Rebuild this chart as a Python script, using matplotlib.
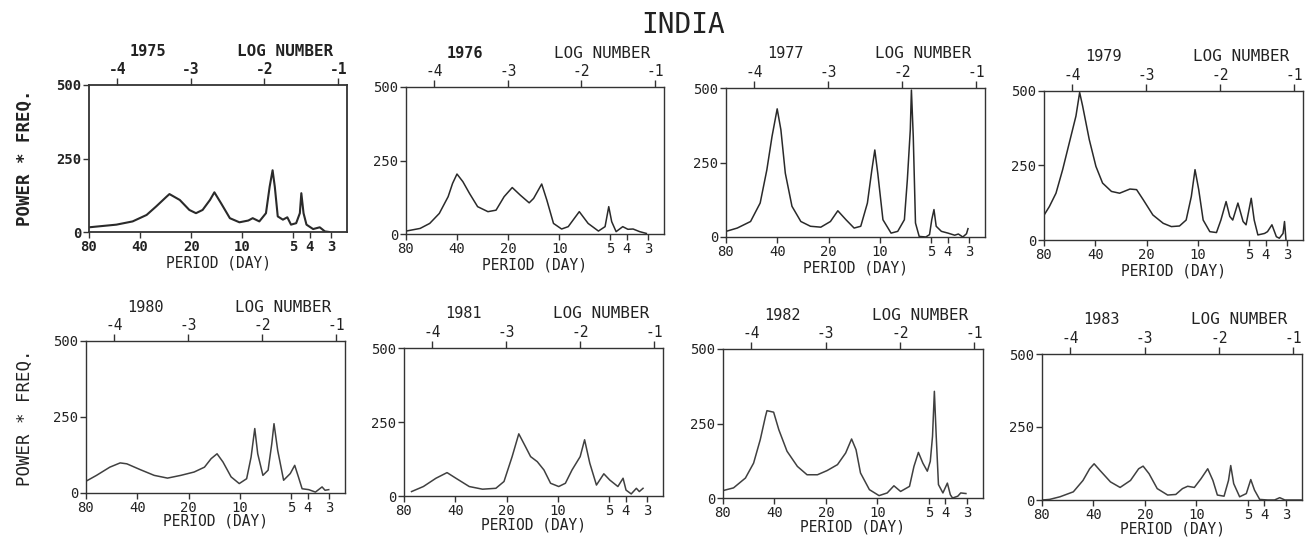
import numpy as np
import matplotlib
matplotlib.use("Agg")
import matplotlib.pyplot as plt

plt.rcParams["font.family"] = ["DejaVu Sans Mono", "DejaVu Sans"]

# x values are the "LOG NUMBER" (ln of frequency, 1/day), y is power * frequency
YEARS = ["1975", "1976", "1977", "1979", "1980", "1981", "1982", "1983"]

LOGN_1975 = [-4.38, -4.01, -3.79, -3.60, -3.47, -3.33, -3.29, -3.15, -3.02, -2.93, -2.84, -2.74,
             -2.68, -2.59, -2.47, -2.34, -2.22, -2.16, -2.07, -1.98, -1.93, -1.89, -1.86, -1.82,
             -1.75, -1.69, -1.64, -1.57, -1.52, -1.50, -1.47, -1.43, -1.34, -1.25, -1.18, -1.12]
POW_1975 = [16, 25, 36, 58, 87, 120, 129, 109, 75, 64, 75, 109, 135, 98, 47, 33, 39, 47, 36, 64,
            154, 210, 154, 53, 42, 50, 25, 30, 64, 132, 64, 25, 10, 16, 2, 0]

LOGN_1976 = [-4.38, -4.19, -4.06, -3.93, -3.81, -3.75, -3.69, -3.61, -3.52, -3.41, -3.27, -3.16,
             -3.05, -2.94, -2.83, -2.71, -2.65, -2.54, -2.47, -2.38, -2.27, -2.18, -2.03, -1.91,
             -1.77, -1.68, -1.63, -1.59, -1.53, -1.44, -1.37, -1.30, -1.21, -1.12]
POW_1976 = [10, 19, 36, 70, 127, 172, 204, 178, 138, 93, 76, 81, 127, 158, 132, 106, 121, 170,
            115, 36, 17, 25, 76, 36, 10, 25, 93, 42, 8, 25, 16, 17, 8, 2]

LOGN_1977 = [-4.38, -4.23, -4.05, -3.92, -3.83, -3.76, -3.69, -3.64, -3.58, -3.49, -3.37, -3.24,
             -3.10, -2.97, -2.87, -2.76, -2.65, -2.56, -2.47, -2.41, -2.37, -2.33, -2.26, -2.15,
             -2.06, -1.97, -1.93, -1.89, -1.875, -1.85, -1.82, -1.77, -1.68, -1.63, -1.60, -1.57,
             -1.54, -1.47, -1.38, -1.29, -1.24, -1.18, -1.13, -1.11]
POW_1977 = [19, 30, 52, 114, 225, 337, 430, 360, 214, 103, 52, 36, 33, 52, 88, 58, 30, 36, 114,
            225, 292, 214, 58, 13, 19, 58, 192, 360, 493, 337, 47, 2, 0, 8, 58, 92, 36, 19, 13, 6,
            10, 0, 11, 28]

LOGN_1979 = [-4.38, -4.31, -4.22, -4.13, -4.04, -3.95, -3.90, -3.86, -3.77, -3.68, -3.59, -3.47,
             -3.36, -3.22, -3.13, -3.04, -2.91, -2.77, -2.66, -2.55, -2.46, -2.39, -2.34, -2.29,
             -2.23, -2.14, -2.05, -1.99, -1.92, -1.87, -1.83, -1.76, -1.69, -1.65, -1.58, -1.54,
             -1.49, -1.40, -1.36, -1.30, -1.24, -1.20, -1.15, -1.13, -1.11]
POW_1979 = [84, 112, 157, 236, 326, 416, 495, 450, 337, 247, 191, 163, 157, 171, 169, 135, 84,
            56, 45, 47, 67, 146, 236, 169, 67, 28, 25, 67, 129, 79, 67, 124, 62, 51, 140, 67, 17,
            22, 28, 51, 11, 6, 22, 62, 0]

LOGN_1980 = [-4.38, -4.24, -4.06, -3.92, -3.83, -3.65, -3.46, -3.28, -3.10, -2.92, -2.78, -2.69,
             -2.61, -2.53, -2.42, -2.31, -2.21, -2.15, -2.10, -2.06, -1.99, -1.92, -1.87, -1.84,
             -1.79, -1.71, -1.62, -1.56, -1.51, -1.46, -1.37, -1.28, -1.19, -1.15, -1.10]
POW_1980 = [39, 58, 85, 99, 96, 77, 58, 49, 58, 69, 85, 113, 129, 102, 53, 31, 47, 118, 212, 129,
            58, 75, 162, 228, 140, 42, 64, 91, 53, 14, 11, 3, 20, 9, 11]

LOGN_1981 = [-4.28, -4.12, -3.95, -3.80, -3.68, -3.50, -3.32, -3.14, -3.03, -2.92, -2.83, -2.74,
             -2.67, -2.58, -2.49, -2.40, -2.29, -2.20, -2.11, -2.00, -1.94, -1.87, -1.78, -1.68,
             -1.60, -1.49, -1.42, -1.38, -1.31, -1.24, -1.20, -1.15]
POW_1981 = [15, 32, 60, 79, 60, 32, 23, 26, 49, 133, 210, 167, 133, 116, 88, 43, 32, 43, 88, 133,
            190, 111, 37, 75, 54, 32, 60, 20, 7, 26, 15, 26]

LOGN_1982 = [-4.38, -4.24, -4.08, -3.97, -3.88, -3.81, -3.79, -3.70, -3.63, -3.52, -3.38, -3.25,
             -3.11, -2.98, -2.84, -2.73, -2.65, -2.59, -2.53, -2.41, -2.28, -2.17, -2.08, -1.99,
             -1.87, -1.81, -1.75, -1.69, -1.63, -1.59, -1.56, -1.535, -1.51, -1.48, -1.42, -1.36,
             -1.32, -1.29, -1.22, -1.18, -1.11]
POW_1982 = [25, 34, 67, 117, 196, 274, 293, 288, 229, 157, 106, 78, 78, 92, 112, 151, 198, 162,
            84, 28, 8, 17, 41, 22, 39, 106, 153, 117, 90, 123, 207, 358, 207, 45, 17, 50, 11, 0,
            6, 17, 15]

LOGN_1983 = [-4.38, -4.28, -4.14, -3.96, -3.83, -3.74, -3.68, -3.60, -3.46, -3.33, -3.19, -3.08,
             -3.02, -2.94, -2.83, -2.69, -2.58, -2.49, -2.42, -2.33, -2.24, -2.15, -2.08, -2.02,
             -1.93, -1.87, -1.84, -1.80, -1.72, -1.63, -1.57, -1.52, -1.45, -1.34, -1.25, -1.18,
             -1.11, -1.02, -0.88]
POW_1983 = [0, 2, 11, 28, 67, 107, 124, 101, 62, 43, 67, 107, 116, 90, 39, 17, 19, 39, 47, 43,
            73, 107, 67, 17, 13, 67, 118, 56, 11, 22, 70, 34, 2, 0, 0, 8, 0, 0, 0]

PERIOD_TICKS = [80, 40, 20, 10, 5, 4, 3]
LOG_TICKS = [-4, -3, -2, -1]
POWER_TICKS = [0, 250, 500]

SERIES = [(LOGN_1975, POW_1975), (LOGN_1976, POW_1976), (LOGN_1977, POW_1977),
          (LOGN_1979, POW_1979), (LOGN_1980, POW_1980), (LOGN_1981, POW_1981),
          (LOGN_1982, POW_1982), (LOGN_1983, POW_1983)]

# panel boxes in pixels: left, top, right, bottom
BOXES = [(89, 85, 347, 232), (406, 87, 664, 234), (726, 88, 985, 237), (1044, 91, 1303, 240),
         (86, 341, 345, 493), (404, 348, 663, 496), (723, 349, 983, 498), (1042, 354, 1302, 500)]

W, H = 1309, 539
INK = "#333333"

fig = plt.figure(figsize=(W / 100, H / 100), dpi=100)

for i, (year, (xs, ys), box) in enumerate(zip(YEARS, SERIES, BOXES)):
    l, t, r, b = box
    ax = fig.add_axes([l / W, 1 - b / H, (r - l) / W, (b - t) / H])
    bold = "bold" if i == 0 else "normal"
    lw = 1.5 if i == 0 else 1.1
    ax.plot(xs, ys, color="#2a2a2a" if i < 4 else "#404040", lw=lw)
    ax.set_xlim(np.log(1 / 80), -0.88)
    ax.set_ylim(0, 500)
    for s in ax.spines.values():
        s.set_color(INK)
        s.set_linewidth(1.3 if i == 0 else 1.0)

    ax.set_xticks(np.log(1 / np.array(PERIOD_TICKS, dtype=float)))
    ax.set_xticklabels([str(p) for p in PERIOD_TICKS], fontweight=bold)
    ax.set_yticks(POWER_TICKS)
    ax.set_yticklabels([str(v) for v in POWER_TICKS], fontweight=bold)
    ax.tick_params(direction="out", length=4, width=1, pad=1.5, labelsize=10,
                   colors=INK, labelcolor="#222222")

    sec = ax.secondary_xaxis("top")
    sec.set_xticks(LOG_TICKS)
    sec.set_xticklabels([str(v) for v in LOG_TICKS], fontweight=bold)
    sec.tick_params(direction="out", length=5, width=1, pad=1, labelsize=10.5,
                    colors=INK, labelcolor="#222222")
    sec.spines["top"].set_visible(False)

    off = 34 / (b - t)
    below = 31 if i < 4 else 28.5
    ax.text(0.23, 1 + off, year, transform=ax.transAxes, ha="center", va="center",
            fontsize=11, fontweight="bold" if i < 2 else "normal", color="#222222")
    ax.text(0.76, 1 + off, "LOG NUMBER", transform=ax.transAxes, ha="center", va="center",
            fontsize=11.5, fontweight=bold, color="#222222")
    ax.text(0.5, -below / (b - t), "PERIOD (DAY)", transform=ax.transAxes, ha="center",
            va="center", fontsize=10.5, color="#222222")

fig.text(683 / W, 1 - 25 / H, "INDIA", ha="center", va="center", fontsize=20, color="#222222")
fig.text(25 / W, 1 - 158 / H, "POWER * FREQ.", rotation=90, ha="center", va="center",
         fontsize=12.5, fontweight="bold", color="#222222")
fig.text(25 / W, 1 - 418 / H, "POWER * FREQ.", rotation=90, ha="center", va="center",
         fontsize=12.5, color="#222222")

fig.savefig("out.png", dpi=100)
